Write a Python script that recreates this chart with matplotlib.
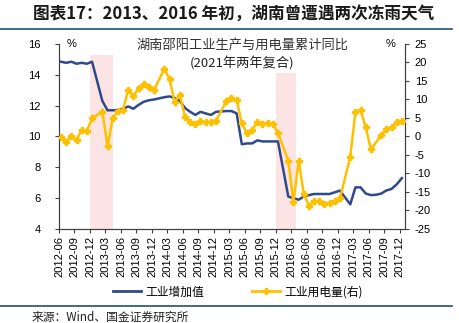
import matplotlib.pyplot as plt
import numpy as np

plt.rcParams['font.family'] = ['Liberation Sans', 'Noto Sans CJK SC', 'DejaVu Sans']
plt.rcParams['axes.unicode_minus'] = False

# month index 0 = 2012-06 ... 66 = 2017-12 (January values not published)
ip_idx = [0, 1, 2, 3, 4, 5, 6, 8, 9, 10, 11, 12, 13, 14, 15, 16, 17, 18,
          20, 21, 22, 23, 24, 25, 26, 27, 28, 29, 30, 32, 33, 34, 35, 36,
          37, 38, 39, 40, 41, 42, 44, 45, 46, 47, 48, 49, 50, 51, 52, 53,
          54, 56, 57, 58, 59, 60, 61, 62, 63, 64, 65, 66]
ip_val = [14.85, 14.78, 14.85, 14.72, 14.78, 14.72, 14.85, 12.3, 11.7, 11.7,
          11.7, 11.8, 11.95, 11.8, 12.05, 12.25, 12.35, 12.4, 12.55, 12.6,
          12.5, 12.3, 11.85, 11.6, 11.4, 11.6, 11.5, 11.4, 11.6, 11.65,
          11.65, 11.5, 9.5, 9.55, 9.55, 9.75, 9.68, 9.68, 9.68, 9.68,
          6.1, 6.0, 5.9, 6.1, 6.2, 6.27, 6.27, 6.27, 6.27, 6.38, 6.49,
          5.6, 6.7, 6.7, 6.3, 6.2, 6.22, 6.3, 6.5, 6.6, 6.9, 7.3]

elec_idx = [0, 1, 2, 3, 4, 5, 6, 8, 9, 10, 11, 12, 13, 14, 15, 16, 17, 18,
            20, 21, 22, 23, 24, 25, 26, 27, 28, 29, 30, 32, 33, 34, 35, 36,
            37, 38, 39, 40, 41, 42, 44, 45, 46, 47, 48, 49, 50, 51, 52, 53,
            54, 56, 57, 58, 59, 60, 62, 63, 64, 65, 66]
elec_val = [-0.2, -1.4, 0.0, -0.9, 1.8, 1.6, 4.9, 6.7, -2.6, 4.9, 7.0, 7.2,
            12.6, 10.9, 13.0, 14.1, 13.5, 12.6, 18.3, 15.5, 9.4, 11.2, 5.4,
            4.0, 3.4, 4.1, 3.9, 4.0, 4.3, 9.5, 10.3, 9.9, 3.6, 0.9, 1.8, 4.0,
            3.4, 3.7, 3.4, 0.9, -6.5, -17.8, -6.5, -15.5, -18.7, -17.5, -17.4,
            -18.2, -17.9, -17.4, -16.7, -5.5, 6.7, 7.2, 2.5, -3.5, 0.4, 1.9,
            2.6, 4.0, 4.2]

tick_labels = ['2012-06', '2012-09', '2012-12', '2013-03', '2013-06', '2013-09',
               '2013-12', '2014-03', '2014-06', '2014-09', '2014-12', '2015-03',
               '2015-06', '2015-09', '2015-12', '2016-03', '2016-06', '2016-09',
               '2016-12', '2017-03', '2017-06', '2017-09', '2017-12']

# freezing rain periods (month index) and band heights on the left axis
bands = [(6, 10.5, 15.3), (42, 45.8, 14.15)]

blue = '#2e4a8c'
yellow = '#ffc000'
cjk = ['Noto Sans CJK SC', 'DejaVu Sans']

fig = plt.figure(figsize=(4.6, 3.23), dpi=100)
ax = fig.add_axes([59 / 460, 1 - 229 / 323, 346 / 460, 185 / 323])
ax2 = ax.twinx()

for x0, x1, top in bands:
    ax.fill_between([x0, x1], 4, top, color='#fde4e4', lw=0, zorder=0)

off = 0.4
ax.plot(np.array(ip_idx) + off, ip_val, color=blue, lw=1.8, zorder=3)
ax2.plot(np.array(elec_idx) + off, elec_val, color=yellow, lw=1.8,
         marker='P', ms=4.5, zorder=3)

ax.set_xlim(0, 67)
ax.set_ylim(4, 16)
ax2.set_ylim(-25, 25)
ax.set_yticks(np.arange(4, 17, 2))
ax2.set_yticks(np.arange(-25, 26, 5))
ax.set_xticks(np.arange(0, 67, 3))
ax.set_xticklabels(tick_labels, rotation=90, fontsize=8)

for a in (ax, ax2):
    a.spines['top'].set_visible(False)
    for s in a.spines.values():
        s.set_color('#404040')
        s.set_linewidth(0.8)
    a.tick_params(length=3, width=0.8, color='#404040', labelsize=8)
ax.tick_params(axis='y', pad=10)
ax.tick_params(axis='x', pad=2)
ax2.tick_params(axis='y', pad=4)

ax.text(72 / 460, 1 - 44 / 323, '%', transform=fig.transFigure, fontsize=8,
        ha='center', va='center')
ax.text(391 / 460, 1 - 44 / 323, '%', transform=fig.transFigure, fontsize=8,
        ha='center', va='center')
ax.text(242 / 460, 1 - 45 / 323, '湖南邵阳工业生产与用电量累计同比',
        transform=fig.transFigure, fontsize=9.5, ha='center', va='center',
        family=cjk, color='#333333')
ax.text(242 / 460, 1 - 63 / 323, '(2021年两年复合)',
        transform=fig.transFigure, fontsize=9.5, ha='center', va='center',
        family=cjk, color='#222222')

# header and footer
fig.text(33 / 460, 1 - 14 / 323, '图表17：2013、2016 年初，湖南曾遭遇两次冻雨天气',
         fontsize=12, fontweight='bold', fontstyle='italic', family=cjk,
         ha='left', va='center', color='#1a1a1a')
fig.add_artist(plt.Line2D([0, 452 / 460], [1 - 29 / 323] * 2, color='#1f5070', lw=1.2))
fig.add_artist(plt.Line2D([0, 452 / 460], [1 - 306 / 323] * 2, color='#1f5070', lw=1.2))
fig.text(32 / 460, 1 - 317 / 323, '来源：Wind、国金证券研究所', fontsize=8.5,
         family=cjk, ha='left', va='center', color='#222222')

h1 = plt.Line2D([], [], color=blue, lw=2)
h2 = plt.Line2D([], [], color=yellow, lw=2, marker='P', ms=4.5)
fig.legend([h1, h2], ['工业增加值', '工业用电量(右)'], ncol=2, frameon=False,
           loc='center', bbox_to_anchor=(238 / 460, 1 - 292 / 323),
           prop={'family': cjk, 'size': 8.5}, handlelength=2.4,
           columnspacing=4, handletextpad=0.4)

fig.savefig('out.png', dpi=100)
